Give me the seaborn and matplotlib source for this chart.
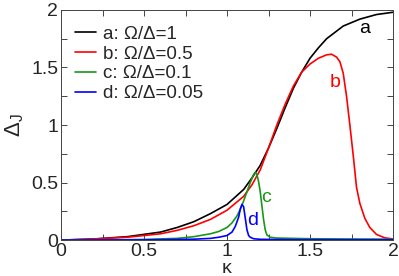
import pandas as pd
import matplotlib
matplotlib.use("Agg")
import matplotlib.pyplot as plt
from matplotlib.ticker import MultipleLocator, FormatStrFormatter
import seaborn as sns

# ----------------------------------------
# Data
# ----------------------------------------
kappa_a = [0, 0.2, 0.4, 0.6, 0.7, 0.8, 0.9, 1.0, 1.1, 1.15, 1.2, 1.25, 1.3, 1.35,
           1.4, 1.45, 1.5, 1.55, 1.6, 1.7, 1.8, 1.9, 2.0]
delta_a = [0, 0.01, 0.03, 0.07, 0.11, 0.16, 0.23, 0.31, 0.44, 0.54, 0.65, 0.80, 0.97,
           1.15, 1.32, 1.46, 1.58, 1.67, 1.75, 1.86, 1.92, 1.96, 1.98]

kappa_b = [0, 0.2, 0.4, 0.6, 0.7, 0.8, 0.9, 1.0, 1.1, 1.15, 1.2, 1.25, 1.3, 1.35, 1.4,
           1.45, 1.5, 1.55, 1.6, 1.63, 1.66, 1.68, 1.70, 1.72, 1.74, 1.76, 1.78, 1.80,
           1.83, 1.86, 1.9, 1.95, 2.0]
delta_b = [0, 0.01, 0.025, 0.055, 0.085, 0.125, 0.18, 0.26, 0.38, 0.48, 0.61, 0.80, 1.00,
           1.18, 1.34, 1.46, 1.53, 1.58, 1.61, 1.615, 1.59, 1.55, 1.45, 1.25, 1.00, 0.74,
           0.46, 0.32, 0.19, 0.11, 0.05, 0.02, 0.01]

kappa_c = [0, 0.3, 0.5, 0.7, 0.8, 0.9, 0.95, 1.0, 1.03, 1.06, 1.08, 1.10, 1.12, 1.14,
           1.16, 1.17, 1.18, 1.19, 1.20, 1.21, 1.22, 1.23, 1.24, 1.26, 1.3, 1.5, 1.7, 2.0]
delta_c = [0, 0.002, 0.006, 0.015, 0.03, 0.055, 0.075, 0.11, 0.15, 0.21, 0.27, 0.34,
           0.42, 0.50, 0.57, 0.59, 0.57, 0.51, 0.42, 0.30, 0.18, 0.09, 0.045, 0.025,
           0.018, 0.012, 0.010, 0.008]

kappa_d = [0, 0.5, 0.8, 0.9, 0.95, 1.0, 1.03, 1.05, 1.07, 1.08, 1.09, 1.10, 1.11, 1.12,
           1.13, 1.14, 1.16, 1.2, 1.4, 2.0]
delta_d = [0, 0.002, 0.008, 0.015, 0.025, 0.04, 0.07, 0.12, 0.20, 0.27, 0.31, 0.29,
           0.19, 0.09, 0.04, 0.025, 0.012, 0.007, 0.004, 0.003]

labels = ["a: Ω/Δ=1", "b: Ω/Δ=0.5", "c: Ω/Δ=0.1", "d: Ω/Δ=0.05"]
tags = ["a", "b", "c", "d"]
colors = ["black", "#ff0000", "#1a961a", "#0000ff"]

series = [(kappa_a, delta_a), (kappa_b, delta_b), (kappa_c, delta_c), (kappa_d, delta_d)]

# ----------------------------------------
# Plot
# ----------------------------------------
sns.set_style("ticks")
plt.rcParams["font.family"] = ["Liberation Sans", "DejaVu Sans"]
plt.rcParams["mathtext.fontset"] = "custom"
plt.rcParams["mathtext.rm"] = "Liberation Sans"
plt.rcParams["mathtext.it"] = "Liberation Sans:italic"

fig = plt.figure(figsize=(3.99, 2.76), dpi=100)
ax = fig.add_axes([0.153, 0.130, 0.832, 0.834])

for (k, d), lab, col in zip(series, labels, colors):
    df = pd.DataFrame({"kappa": k, "delta": d})
    sns.lineplot(data=df, x="kappa", y="delta", color=col, label=lab,
                 linewidth=1.2, estimator=None, sort=False, ax=ax)

# curve tags
tag_pos = [(1.83, 1.84), (1.65, 1.37), (1.235, 0.37), (1.157, 0.17)]
for t, (x, y), col in zip(tags, tag_pos, colors):
    ax.text(x, y, t, color=col, fontsize=14, ha="center", va="center")

ax.set_xlim(0, 2)
ax.set_ylim(0, 2)
ax.xaxis.set_major_locator(MultipleLocator(0.5))
ax.yaxis.set_major_locator(MultipleLocator(0.5))
ax.xaxis.set_minor_locator(MultipleLocator(0.25))
ax.yaxis.set_minor_locator(MultipleLocator(0.25))
ax.xaxis.set_major_formatter(FormatStrFormatter("%g"))
ax.yaxis.set_major_formatter(FormatStrFormatter("%g"))
ax.tick_params(which="both", direction="in", top=True, right=True,
               length=4, width=0.6, pad=2, labelsize=14)
for sp in ax.spines.values():
    sp.set_linewidth(0.7)
    sp.set_color("#444444")

ax.set_xlabel("κ", fontsize=14, labelpad=0)
ax.set_ylabel(r"$\mathregular{\Delta_J}$", fontsize=16, labelpad=4)

ax.legend(loc="upper left", bbox_to_anchor=(0.02, 0.965), frameon=False,
          fontsize=13.5, handlelength=1.1, handletextpad=0.4,
          labelspacing=0.15, borderaxespad=0.0)

fig.savefig("out.png", dpi=100)
plt.close(fig)
